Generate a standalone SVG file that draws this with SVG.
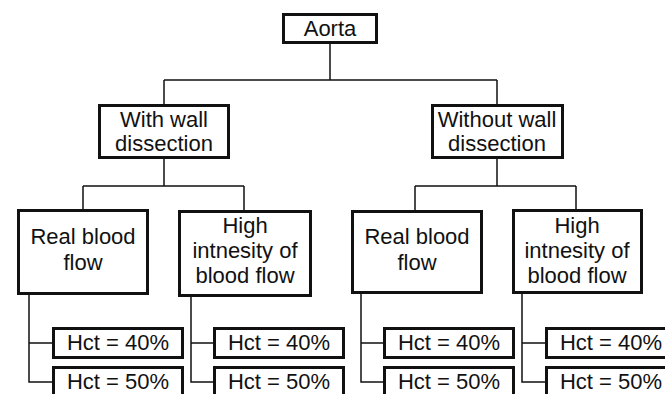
<svg xmlns="http://www.w3.org/2000/svg" width="665" height="394" viewBox="0 0 665 394">
<style>
.box{fill:#fff;stroke:#111;stroke-width:3}
.ln{fill:none;stroke:#111;stroke-width:1.5}
text{font-family:"Liberation Sans",Arial,sans-serif;font-size:22px;fill:#111;text-anchor:middle}
</style>
<rect width="665" height="394" fill="#fff"/>
<g id="connectors">
<path class="ln" d="M330 43V80M164 80H497M164 80V104M497 80V104"/>
<path class="ln" d="M164 159V186M83 186H244M83 186V209M244 186V210"/>
<path class="ln" d="M497 159V186M415 186H576M415 186V210M576 186V209"/>
<path class="ln" d="M29 294V382H52M29 343H52"/>
<path class="ln" d="M191 296V382H213M191 343H213"/>
<path class="ln" d="M361 293V382H383M361 343H383"/>
<path class="ln" d="M522 293V382H545M522 343H545"/>
</g>
<g id="aorta"><rect class="box" x="283.5" y="14.5" width="93" height="28"/><text x="330" y="36">Aorta</text></g>
<g id="with-wall"><rect class="box" x="99.5" y="105.5" width="129" height="52"/><text x="164" y="127">With wall</text><text x="164" y="151">dissection</text></g>
<g id="without-wall"><rect class="box" x="432.5" y="105.5" width="130" height="52"/><text x="497" y="127">Without wall</text><text x="497" y="151">dissection</text></g>
<g id="real1"><rect class="box" x="18.5" y="210.5" width="129" height="83"/><text x="83" y="244">Real blood</text><text x="83" y="270">flow</text></g>
<g id="high1"><rect class="box" x="179.5" y="211.5" width="131" height="84"/><text x="245" y="233">High</text><text x="245" y="258">intnesity of</text><text x="245" y="283">blood flow</text></g>
<g id="real2"><rect class="box" x="352.5" y="211.5" width="129" height="81"/><text x="417" y="244">Real blood</text><text x="417" y="270">flow</text></g>
<g id="high2"><rect class="box" x="513.5" y="210.5" width="128" height="82"/><text x="577" y="233">High</text><text x="577" y="258">intnesity of</text><text x="577" y="283">blood flow</text></g>
<g id="hct1a"><rect class="box" x="53.5" y="328.5" width="129" height="29"/><text x="118" y="350">Hct = 40%</text></g>
<g id="hct1b"><rect class="box" x="53.5" y="367.5" width="129" height="32"/><text x="118" y="389">Hct = 50%</text></g>
<g id="hct2a"><rect class="box" x="214.5" y="328.5" width="129" height="29"/><text x="279" y="350">Hct = 40%</text></g>
<g id="hct2b"><rect class="box" x="214.5" y="367.5" width="129" height="32"/><text x="279" y="389">Hct = 50%</text></g>
<g id="hct3a"><rect class="box" x="384.5" y="328.5" width="129" height="29"/><text x="449" y="350">Hct = 40%</text></g>
<g id="hct3b"><rect class="box" x="384.5" y="367.5" width="129" height="32"/><text x="449" y="389">Hct = 50%</text></g>
<g id="hct4a"><rect class="box" x="546.5" y="328.5" width="129" height="29"/><text x="611" y="350">Hct = 40%</text></g>
<g id="hct4b"><rect class="box" x="546.5" y="367.5" width="129" height="32"/><text x="611" y="389">Hct = 50%</text></g>
</svg>
